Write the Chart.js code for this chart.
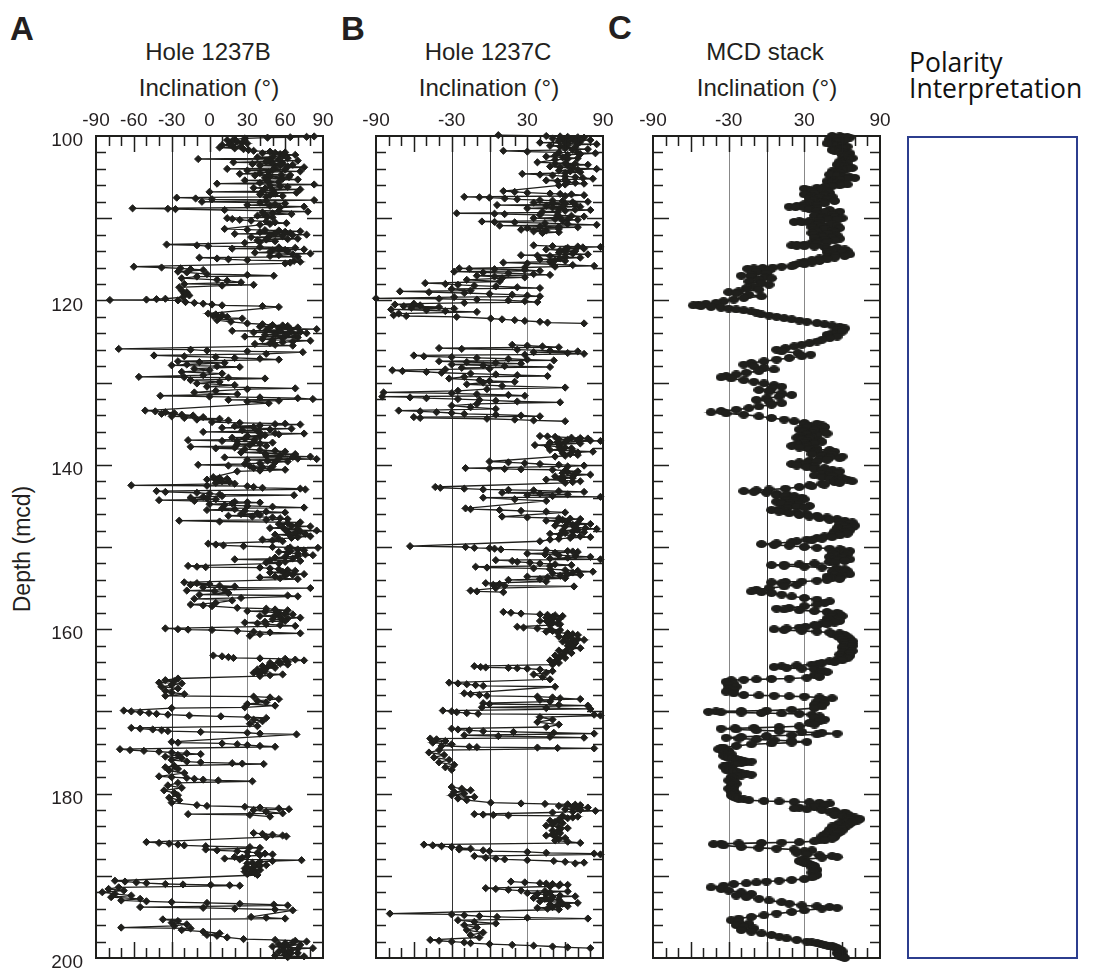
<!DOCTYPE html>
<html>
<head>
<meta charset="utf-8">
<script src="https://cdn.jsdelivr.net/npm/chart.js@4.4.1/dist/chart.umd.min.js"></script>
<style>
    body { margin: 0; background: #fff; font-family: "Liberation Sans", Arial, sans-serif; color: #231f20; }
    #page { position: relative; width: 1094px; height: 970px; overflow: hidden; }
    canvas { position: absolute; }
    .txt { position: absolute; line-height: 1; white-space: nowrap; transform: translate(-50%, -50%); }
    .letter { position: absolute; line-height: 1; font-weight: bold; font-size: 33px; }
    .title { font-size: 24px; }
    .polarity { position: absolute; left: 909px; font-family: "Open Sans", Lato, sans-serif; font-size: 26.5px; line-height: 1; color: #111; }
    #polbox { position: absolute; left: 907px; top: 136px; width: 167px; height: 819px; border: 2px solid #2c3e8e; }
</style>
</head>
<body>
<div id="page">
    <div class="letter" style="left:10px; top:12px;">A</div>
    <div class="letter" style="left:341px; top:12px;">B</div>
    <div class="letter" style="left:608px; top:11px;">C</div>

    <div class="txt title" style="left:208px; top:52px;">Hole 1237B</div>
    <div class="txt title" style="left:209px; top:88px;">Inclination (°)</div>
    <div class="txt title" style="left:488px; top:52px;">Hole 1237C</div>
    <div class="txt title" style="left:489px; top:88px;">Inclination (°)</div>
    <div class="txt title" style="left:765px; top:52px;">MCD stack</div>
    <div class="txt title" style="left:767px; top:88px;">Inclination (°)</div>

    <div class="txt" style="left:22px; top:549px; font-size:23px; transform: translate(-50%, -50%) rotate(-90deg);">Depth (mcd)</div>

    <div class="polarity" style="top:49px;">Polarity</div>
    <div class="polarity" style="top:75px;">Interpretation</div>
    <div id="polbox"></div>

    <canvas id="chartA" width="345" height="870" style="left:0px; top:100px;"></canvas>
    <canvas id="chartB" width="270" height="870" style="left:350px; top:100px;"></canvas>
    <canvas id="chartC" width="270" height="870" style="left:627px; top:100px;"></canvas>
</div>

<script>
// axis labels
const depthTicks = [100, 120, 140, 160, 180, 200];
const inclTicksA = [-90, -60, -30, 0, 30, 60, 90];
const inclTicksBC = [-90, -30, 30, 90];

// [depth (mcd), inclination (deg)]; null = break between cores
const hole1237B = [
    [100.05,83],[100.1,77],[100.15,64],[100.2,46],[100.3,28],[100.4,20],[100.5,14],[100.6,18],[100.7,22],[100.8,26],[100.9,30],[101.0,16],[101.1,10],[101.2,18],[101.3,25],[101.4,8],[101.5,20],[101.6,27],[101.7,31],[101.8,35],[101.9,48],[102.0,60],[102.05,52],[102.1,42],[102.2,56],[102.3,68],[102.4,58],[102.5,50],[102.6,38],[102.7,62],[102.8,-9],[102.9,55],[102.95,48],[103.0,70],[103.1,45],[103.2,19],[103.3,58],[103.35,50],[103.4,34],[103.5,66],[103.55,56],[103.6,40],[103.7,62],[103.8,75],[103.9,52],[104.0,14],[104.1,60],[104.15,50],[104.2,30],[104.3,72],[104.4,47],[104.5,40],[104.6,24],[104.7,57],[104.75,64],[104.8,36],[104.9,48],[105.0,63],[105.1,44],[105.2,58],[105.3,70],[105.4,28],[105.5,46],[105.6,55],[105.7,40],[105.8,6],[105.9,83],[106.0,48],[106.1,56],[106.2,62],[106.3,35],[106.4,44],[106.5,72],[106.6,50],[106.7,42],[106.8,0],[106.9,69],[107.0,52],[107.1,40],[107.2,48],[107.3,58],[107.4,45],[107.5,-26],[107.6,-11],[107.7,2],[107.8,83],[107.9,45],[108.0,-6],[108.1,40],[108.2,60],[108.3,52],[108.4,30],[108.5,48],[108.6,75],[108.7,56],[108.8,-61],[108.85,-33],[108.9,-27],[109.0,12],[109.1,55],[109.2,78],[109.3,42],[109.4,50],[109.5,65],[109.6,44],[109.7,38],[109.8,46],[109.9,50],[110.0,14],[110.1,18],[110.2,24],[110.3,33],[110.4,45],[110.5,52],[110.6,61],[110.7,48],[110.8,40],
    [111.3,12],[111.4,30],[111.45,44],[111.5,55],[111.6,72],[111.65,60],[111.7,40],[111.8,64],[111.85,52],[111.9,20],[112.0,77],[112.05,66],[112.1,48],[112.2,58],[112.3,33],[112.4,46],[112.5,70],[112.55,62],[112.6,45],[112.7,38],[112.8,52],[112.9,40],[113.0,28],[113.2,-34],[113.3,-10],[113.4,-1],[113.5,40],[113.55,55],[113.6,68],[113.7,18],[113.8,75],[113.85,60],[113.9,50],[114.0,62],[114.1,48],[114.2,36],[114.3,80],[114.4,66],[114.5,55],[114.6,48],[114.7,70],[114.8,-8],[114.9,6],[115.0,15],[115.1,30],[115.2,67],[115.3,72],[115.4,64],[115.5,60],
    [115.9,-60],[116.0,-38],[116.1,-23],[116.2,-15],[116.3,-5],[116.5,-25],[116.6,-18],[116.8,-2],[116.9,30],[117.0,51],[117.1,-10],[117.3,-22],[117.5,6],[117.6,14],[117.8,25],[118.0,-20],[118.1,35],[118.2,10],[118.4,-24],
    [118.8,-22],[119.0,-18],[119.2,-20],[119.4,-16],[119.6,-21],[119.8,-35],[119.85,-42],[119.9,-50],[119.95,-79],[120.0,-25],[120.2,-19],[120.3,-12],[120.4,-5],[120.5,2],[120.6,10],[120.7,42],[120.8,55],
    [121.6,-1],[121.7,5],[121.8,10],[121.9,3],[122.0,14],[122.1,8],[122.2,26],[122.4,6],[122.6,17],[122.8,30],[122.9,42],[123.0,50],[123.05,58],[123.1,62],[123.2,40],[123.25,48],[123.3,70],[123.4,55],[123.45,64],[123.5,85],[123.6,45],[123.65,56],[123.7,18],[123.8,65],[123.85,72],[123.9,35],[124.0,77],[124.05,62],[124.1,52],[124.2,44],[124.3,60],[124.35,68],[124.4,28],[124.5,70],[124.6,58],[124.7,42],[124.8,50],[124.9,80],[125.0,66],[125.1,58],[125.2,48],[125.3,36],[125.4,52],[125.5,66],
    [125.9,-72],[126.0,-15],[126.1,-2],[126.2,30],[126.3,74],[126.5,45],[126.7,-44],[126.8,-20],[126.9,5],[127.0,20],[127.1,40],[127.2,55],[127.4,-25],[127.5,-8],[127.6,12],[127.8,-18],[127.9,-30],[128.0,6],[128.1,24],[128.3,-12],[128.5,0],[128.7,-22],[128.9,10],[129.1,-5],[129.3,-56],[129.35,-20],[129.4,15],[129.5,44],[129.7,-15],[129.9,8],[130.1,-10],[130.3,20],[130.5,-2],[130.7,68],[130.8,30],[131.0,5],[131.2,-12],[131.4,22],[131.6,-39],[131.7,0],[131.8,40],[131.9,70],[132.0,82],[132.1,15],[132.2,55],[132.3,30],[132.5,47],
    [133.4,-51],[133.5,-43],[133.6,-35],[133.7,-28],[133.8,-38],[133.9,-22],[134.0,-13],[134.1,-30],[134.2,-5],[134.3,-20],[134.4,8],[134.5,-10],[134.6,15],[134.8,2],[134.9,24],[135.0,60],[135.05,52],[135.1,72],[135.2,40],[135.3,20],[135.4,35],[135.5,10],[135.6,65],[135.7,48],[135.8,26],[135.9,38],[136.0,-5],[136.1,40],[136.15,52],[136.2,75],[136.3,55],[136.4,44],[136.5,30],[136.6,40],[136.7,18],[136.8,28],[136.9,36],[137.0,-17],[137.1,10],[137.15,22],[137.2,35],[137.3,50],[137.4,40],[137.5,22],[137.6,32],[137.7,45],[137.8,-15],[137.9,20],[138.0,5],[138.1,28],[138.2,40],[138.3,52],[138.4,60],[138.5,25],[138.6,44],[138.7,68],[138.8,56],[138.9,45],[139.0,80],[139.05,66],[139.1,12],[139.2,55],[139.25,70],[139.3,85],[139.4,30],[139.5,46],[139.6,62],[139.7,52],[139.8,40],[139.9,28],[140.0,-9],[140.1,15],[140.15,32],[140.2,50],[140.3,42],[140.4,35],[140.5,48],[140.6,60],[140.7,40],[140.8,22],
    [141.5,3],[141.6,8],[141.7,14],[141.8,-2],[141.9,6],[142.0,10],[142.1,16],[142.2,5],[142.3,20],[142.5,-62],[142.55,-2],[142.6,30],[142.7,35],[142.8,42],[142.9,72],[143.0,76],[143.2,-42],[143.3,-35],[143.4,-10],[143.5,0],[143.6,8],[143.7,67],[143.8,10],[143.9,-5],[144.0,-15],[144.1,-2],[144.2,5],[144.3,-40],[144.4,-12],[144.5,20],[144.55,30],[144.6,40],[144.7,18],[144.8,0],[144.9,12],[145.0,30],[145.1,50],[145.2,75],[145.3,10],[145.4,20],[145.5,-2],[145.6,28],[145.7,45],[145.8,60],[145.9,38],[146.0,25],[146.1,40],[146.2,15],[146.3,34],[146.4,50],[146.5,56],[146.6,62],[146.7,45],[146.8,-24],[146.9,8],[147.0,72],[147.1,62],[147.2,55],[147.3,70],[147.4,65],[147.5,80],[147.6,58],[147.7,48],[147.8,70],[147.9,60],[148.0,85],[148.1,72],[148.2,62],[148.3,68],[148.4,76],[148.5,52],[148.6,64],[148.7,80],[148.8,70],[148.9,65],[149.0,55],[149.1,42],[149.2,50],[149.3,58],
    [149.6,-1],[149.7,5],[149.8,11],[149.9,27],[150.0,50],[150.05,64],[150.1,86],[150.2,62],[150.3,70],[150.4,75],[150.5,64],[150.6,55],[150.7,62],[150.8,70],[150.9,76],[151.0,82],[151.1,70],[151.2,60],[151.3,52],[151.4,66],[151.5,20],[151.6,48],[151.7,72],[151.8,60],[151.9,45],[152.0,55],[152.3,-17],[152.4,-10],[152.45,-3],[152.5,40],[152.6,48],[152.7,55],[152.8,62],[152.9,68],[153.0,58],[153.1,48],[153.2,62],[153.3,75],[153.4,66],[153.5,60],[153.6,52],[153.7,40],[153.8,56],[153.9,70],
    [154.3,-20],[154.4,-10],[154.5,0],[154.6,-15],[154.7,8],[154.8,20],[154.9,-5],[155.0,80],[155.2,12],[155.3,-18],[155.4,4],[155.6,15],[155.8,-8],[155.9,62],[156.0,70],[156.2,25],[156.3,-12],[156.5,18],[156.8,5],[157.0,-15],[157.1,-5],[157.2,2],[157.4,22],[157.5,45],[157.6,52],[157.7,62],[157.8,30],[157.9,44],[158.0,55],[158.1,60],[158.2,66],[158.3,52],[158.4,40],[158.5,56],[158.6,72],[158.7,62],[158.8,50],[158.9,58],[159.0,60],[159.1,44],[159.2,28],[159.3,38],[159.4,45],[159.5,56],[159.6,68],[159.9,-35],[160.0,-25],[160.05,-17],[160.1,2],[160.2,22],[160.3,35],[160.4,48],[160.5,72],[160.6,40],[160.8,32],
    null,
    [163.2,3],[163.3,10],[163.4,15],[163.5,19],[163.55,40],[163.6,60],[163.7,68],[163.8,75],[163.9,55],[164.0,62],[164.1,48],[164.2,56],[164.3,62],[164.4,50],[164.5,42],[164.6,46],[164.7,52],[164.8,44],[164.9,38],[165.0,42],[165.1,44],[165.2,38],[165.3,35],[165.4,40],[165.5,58],[165.6,48],[165.7,40],
    [166.0,-25],[166.2,-35],[166.3,-28],[166.5,-40],[166.6,-22],[166.8,-30],[167.0,-38],[167.2,-25],[167.5,-35],[167.7,-30],[167.9,-20],[168.1,-35],[168.2,35],[168.3,48],[168.5,55],[168.7,38],[168.9,45],[169.1,30],[169.3,52],[169.5,28],[169.6,-30],
    [169.9,-68],[170.0,-62],[170.1,-55],[170.2,-48],[170.3,-42],[170.4,-33],[170.5,-16],[170.6,9],[170.7,30],[170.8,45],[171.0,35],[171.2,42],[171.5,32],[171.8,38],[172.0,-62],[172.1,-55],[172.2,-45],[172.3,-38],[172.4,-33],[172.5,-7],[172.6,30],[172.7,40],[172.8,69],
    [173.7,-30],[173.8,-25],[173.9,10],[174.0,22],[174.1,30],[174.2,40],[174.3,52],[174.6,-71],[174.7,-63],[174.8,-52],[174.9,-40],[175.0,-30],[175.1,-18],[175.2,-7],[175.3,-25],[175.5,-35],[175.7,-22],[175.9,-30],[176.1,-18],[176.2,-7],[176.3,18],[176.35,26],[176.4,43],[176.6,-28],[176.8,-35],[177.0,-25],[177.2,-32],[177.5,-20],
    [177.9,-40],[178.0,-30],[178.1,-18],[178.2,-12],[178.3,-5],[178.4,7],[178.5,34],[178.7,-25],[179.0,-33],[179.3,-22],[179.6,-36],[179.9,-28],[180.2,-25],[180.5,-32],[180.8,-24],[181.1,-30],
    [181.4,-10],[181.5,-2],[181.6,28],[181.7,40],[181.8,55],[181.9,63],[182.0,35],[182.2,45],[182.4,58],[182.5,-17],[182.6,32],[182.8,48],
    null,
    [184.8,35],[184.9,42],[185.0,50],[185.1,58],[185.2,61],[185.3,45],
    [185.9,-50],[186.0,-40],[186.1,-32],[186.2,-25],[186.3,-20],[186.4,-3],[186.5,32],[186.6,40],[186.8,-3],[186.9,6],[187.0,22],[187.1,30],[187.2,38],[187.3,44],[187.4,50],[187.5,40],[187.6,30],[187.7,20],[187.8,26],[187.9,12],[188.0,24],[188.1,73],[188.2,50],[188.3,40],[188.4,34],[188.5,30],[188.6,38],[188.7,45],[188.8,40],[188.9,35],[189.0,30],[189.1,28],[189.2,34],[189.3,40],[189.4,36],[189.5,28],[189.6,32],[189.7,36],[189.8,30],[189.9,38],
    [190.6,-75],[190.7,-67],[190.8,-58],[190.9,-50],[191.0,-35],[191.05,-21],[191.1,1],[191.15,16],[191.2,24],[191.4,-72],[191.6,-80],[191.8,-68],[192.0,-85],[192.2,-75],[192.4,-62],[192.6,-78],[192.8,-55],[193.0,-70],[193.1,-50],[193.2,-30],[193.3,-2],[193.4,24],[193.5,51],[193.6,62],[193.8,-55],[193.9,-5],[194.0,20],[194.1,52],[194.2,66],
    [195.0,33],[195.1,45],[195.2,60],[195.3,-37],[195.5,-25],[195.7,-30],[195.9,-18],[196.1,-28],[196.3,-70],[196.4,-15],[196.6,-22],[196.8,-5],[197.0,8],[197.2,-2],[197.3,6],[197.5,14],[197.7,27],[197.8,52],[197.9,68],[198.0,77],[198.1,66],[198.2,60],[198.3,55],[198.4,72],[198.5,62],[198.6,50],[198.7,58],[198.8,82],[198.9,70],[199.0,65],[199.1,58],[199.2,55],[199.3,62],[199.4,70],[199.5,64],[199.6,60],[199.7,52],[199.8,75],[199.9,62]
];

const hole1237C = [
    [99.9,7],[100.0,45],[100.05,56],[100.1,62],[100.15,70],[100.2,75],[100.3,50],[100.35,58],[100.4,66],[100.5,80],[100.55,68],[100.6,55],[100.7,72],[100.75,62],[100.8,40],[100.9,60],[100.95,70],[101.0,85],[101.1,62],[101.2,48],[101.3,56],[101.4,68],[101.5,60],[101.6,78],[101.7,66],[101.8,11],[101.9,30],[102.0,55],[102.05,70],[102.1,84],[102.2,72],[102.3,62],[102.4,52],[102.5,45],[102.6,58],[102.7,70],[102.8,62],[102.9,52],[103.2,38],[103.3,60],[103.35,68],[103.4,52],[103.5,78],[103.6,62],[103.7,48],[103.8,56],[103.9,66],[104.0,85],[104.1,70],[104.2,55],[104.3,64],[104.4,72],[104.5,60],[104.6,26],[104.7,40],[104.8,50],[104.9,60],[105.0,68],[105.1,74],[105.2,82],[105.3,60],[105.4,45],[105.5,54],[105.6,62],[105.7,68],[105.8,75],[105.9,60],[106.0,55],
    [106.7,11],[106.8,20],[106.9,30],[107.0,48],[107.05,56],[107.1,65],[107.2,75],[107.3,60],[107.4,-20],[107.45,-8],[107.5,0],[107.6,12],[107.7,22],[107.8,40],[107.85,50],[107.9,58],[108.0,78],[108.05,66],[108.1,35],[108.2,50],[108.25,60],[108.3,68],[108.4,6],[108.5,45],[108.55,58],[108.6,72],[108.7,50],[108.8,30],[108.9,55],[108.95,68],[109.0,80],[109.1,60],[109.2,42],[109.3,54],[109.4,-26],[109.45,4],[109.5,12],[109.6,40],[109.65,54],[109.7,65],[109.8,75],[109.9,56],[110.0,35],[110.1,52],[110.15,62],[110.2,70],[110.3,58],[110.4,-6],[110.45,4],[110.5,20],[110.6,44],[110.7,62],[110.8,85],[110.9,8],[111.0,40],[111.05,55],[111.1,70],[111.2,30],[111.3,55],[111.4,25],[111.5,45],[111.6,35],[111.7,55],[111.8,42],
    null,
    [113.3,35],[113.4,50],[113.45,70],[113.5,88],[113.55,74],[113.6,62],[113.7,75],[113.75,60],[113.8,45],[113.9,56],[114.0,68],[114.1,60],[114.2,55],[114.3,66],[114.4,78],[114.5,25],[114.55,38],[114.6,48],[114.7,60],[114.8,72],[114.9,56],[115.0,40],[115.1,52],[115.2,60],[115.3,48],[115.4,11],[115.5,30],[115.6,50],[115.7,66],[115.8,83],[115.9,52],[116.0,28],
    [116.1,-24],[116.15,-16],[116.2,4],[116.3,28],[116.4,40],[116.5,-28],[116.6,-5],[116.7,15],[116.8,35],[116.9,48],[117.0,-10],[117.1,4],[117.2,28],[117.3,10],[117.5,-18],[117.7,8],[117.9,-51],[118.0,-35],[118.1,-25],[118.2,-12],[118.3,5],[118.4,22],[118.5,40],[118.6,-30],[118.8,-15],[118.9,-71],[119.0,-48],[119.1,-20],[119.2,0],[119.3,18],[119.4,30],[119.5,40],[119.6,-28],[119.75,-90],[119.8,-40],[119.9,-10],[120.0,15],[120.1,28],[120.2,38],[120.3,-20],[120.4,-60],[120.5,-75],[120.6,-55],[120.7,-68],[120.8,-40],[120.9,-62],[121.0,-28],[121.1,-78],[121.2,-50],[121.3,-35],[121.4,-10],[121.6,-72],[121.8,-76],[121.9,-66],[122.0,-26],[122.2,1],[122.3,10],[122.4,20],[122.5,28],[122.6,40],[122.7,46],[122.8,75],
    null,
    [125.4,18],[125.5,30],[125.6,42],[125.7,55],[125.8,-40],[125.9,-22],[126.0,22],[126.1,48],[126.2,70],[126.3,35],[126.4,62],[126.5,75],[126.6,28],[126.7,-60],[126.8,-52],[126.9,-30],[127.0,-10],[127.1,15],[127.2,30],[127.3,51],[127.4,-40],[127.5,-18],[127.6,5],[127.7,25],[127.8,-30],[127.9,-5],[128.0,12],[128.1,48],[128.2,-22],[128.3,0],[128.4,-35],[128.5,-77],[128.6,-69],[128.7,-50],[128.8,-38],[128.9,-15],[129.0,5],[129.1,22],[129.2,46],[129.3,-20],[129.5,-32],[129.7,-8],[129.8,0],[129.9,20],[130.0,-5],[130.2,-18],[130.4,10],[130.6,60],[130.8,-2],[131.0,-25],[131.2,-84],[131.3,-30],[131.4,-10],[131.5,15],[131.6,28],[131.7,-85],[131.8,-63],[131.9,-50],[132.0,-25],[132.1,-8],[132.2,5],[132.3,22],[132.4,56],[132.6,-10],[132.8,-30],[133.0,-15],[133.2,5],[133.4,-72],[133.5,-55],[133.6,-42],[133.7,-30],[133.8,-20],[133.9,5],[134.0,25],[134.1,40],[134.2,-60],[134.3,-55],[134.4,-2],[134.5,20],[134.6,35],[134.7,60],
    null,
    [136.5,40],[136.55,46],[136.6,52],[136.7,65],[136.75,72],[136.8,78],[136.9,55],[136.95,62],[137.0,70],[137.05,80],[137.1,88],[137.2,60],[137.25,54],[137.3,48],[137.4,72],[137.5,56],[137.6,36],[137.7,46],[137.8,55],[137.9,60],[138.0,65],[138.1,56],[138.2,48],[138.3,66],[138.4,82],[138.5,70],[138.6,58],[138.7,64],[138.8,70],[138.9,60],[139.0,52],
    [139.6,0],[139.7,15],[139.8,28],[139.9,40],[140.0,55],[140.1,75],[140.2,62],[140.4,-19],[140.45,0],[140.5,12],[140.55,25],[140.6,50],[140.7,60],[140.8,70],[140.9,62],[141.0,58],[141.1,68],[141.2,80],[141.3,66],[141.4,52],[141.5,58],[141.6,66],[141.7,56],[141.8,45],[141.9,58],[142.0,72],[142.1,66],[142.2,60],
    [142.7,-43],[142.8,-39],[142.9,-20],[143.0,-5],[143.05,15],[143.1,35],[143.2,55],[143.3,75],[143.4,10],[143.5,40],[143.6,62],[143.7,30],[143.8,50],[143.9,88],[144.0,-5],[144.2,20],[144.4,45],[145.3,-19],[145.4,-15],[145.5,8],[145.6,25],[145.7,45],[145.8,60],
    [146.3,10],[146.4,30],[146.5,55],[146.55,64],[146.6,72],[146.7,58],[146.8,45],[146.9,54],[147.0,62],[147.1,70],[147.2,80],[147.3,66],[147.4,52],[147.5,60],[147.6,68],[147.7,76],[147.8,85],[147.9,70],[148.0,58],[148.1,66],[148.2,75],[148.3,60],[148.4,48],[148.5,56],[148.6,66],[148.7,72],[148.8,80],[148.9,64],[149.0,55],[149.1,48],[149.3,40],
    [149.9,-63],[150.0,-19],[150.1,-12],[150.15,0],[150.2,4],[150.3,9],[150.4,45],[150.5,62],[150.55,66],[150.6,70],[150.7,52],[150.8,30],[150.9,44],[151.0,55],[151.1,68],[151.2,80],[151.3,62],[151.4,48],[151.5,88],[151.6,5],[151.7,18],[151.8,22],[151.9,32],[152.0,40],[152.1,52],[152.2,65],[152.3,48],[152.4,-11],[152.5,-2],[152.6,35],[152.7,48],[152.8,60],[152.9,70],[153.0,82],[153.1,66],[153.2,50],[153.3,62],[153.4,72],[153.5,56],[153.6,30],[153.7,46],[153.8,60],[153.9,40],[154.0,15],[154.2,45],[154.4,-3],[154.5,8],[154.6,3],[154.7,12],[154.8,67],[155.0,5],[155.3,-15],[155.4,-10],[155.5,11],
    null,
    [157.9,11],[158.0,17],[158.1,25],[158.2,40],[158.25,46],[158.3,52],[158.4,58],[158.5,50],[158.6,45],[158.7,50],[158.8,55],[158.9,48],[159.0,40],[159.1,46],[159.2,50],[159.3,54],[159.4,56],[159.5,48],[159.7,22],[159.8,27],[159.9,38],[160.0,48],[160.1,56],[160.2,50],[160.3,45],[160.4,54],[160.5,62],[160.6,66],[160.7,70],[160.8,62],[160.9,55],[161.0,60],[161.1,65],[161.2,70],[161.3,75],[161.4,66],[161.5,58],[161.6,62],[161.7,68],[161.85,64],[162.0,62],[162.15,66],[162.3,72],[162.45,62],[162.6,55],[162.75,60],[162.9,65],[163.05,58],[163.2,52],[163.35,56],[163.5,60],[163.65,54],[163.8,48],[163.95,52],[164.1,55],[164.3,50],
    [164.5,-12],[164.6,-7],[164.65,-3],[164.7,15],[164.75,22],[164.8,30],[164.9,40],[165.1,50],[165.3,45],[165.5,35],[165.8,42],[166.1,48],
    [166.5,-32],[166.6,-25],[166.7,-18],[166.8,-11],[166.9,-5],[167.0,52],[167.8,-20],[167.9,-15],[168.0,-8],[168.1,-2],[168.2,38],[168.3,50],[168.4,56],[168.5,72],[168.6,40],[168.8,48],[169.0,-5],[169.1,0],[169.2,55],[169.3,78],[169.5,-6],[169.6,45],[169.7,80],[169.9,-37],[170.0,-30],[170.1,-26],[170.2,-18],[170.3,-9],[170.4,83],[170.5,88],[170.7,40],[171.0,50],[171.3,38],[171.6,55],[171.9,45],[172.1,-30],[172.2,-25],[172.3,-16],[172.4,-5],[172.5,19],[172.6,51],[172.7,83],[172.9,-20],[173.0,7],[173.1,48],[173.2,75],[173.3,-47],[173.4,-42],[173.6,-35],[173.8,-45],[174.0,-30],[174.2,-38],[174.3,-16],[174.35,-10],[174.4,38],[174.45,54],[174.5,83],[174.7,-40],[175.0,-48],[175.3,-36],[175.6,-44],[175.9,-32],[176.2,-40],[176.5,-28],[176.8,-35],[177.1,-30],
    null,
    [179.2,-30],[179.4,-22],[179.6,-15],[179.8,-28],[180.0,-20],[180.2,-30],[180.4,-12],[180.6,-25],[180.8,-18],[181.1,1],[181.2,25],[181.25,44],[181.3,62],[181.35,68],[181.4,72],[181.5,55],[181.6,66],[181.7,78],[181.8,70],[181.9,60],[182.0,72],[182.1,84],[182.2,66],[182.3,50],[182.5,-12],[182.55,-5],[182.6,3],[182.65,15],[182.7,58],[182.8,70],[182.9,66],[183.0,62],[183.15,55],[183.3,48],[183.45,52],[183.6,58],[183.75,50],[183.9,45],[184.05,55],[184.2,62],[184.35,56],[184.5,50],[184.65,54],[184.8,56],[184.95,50],[185.1,45],[185.25,52],[185.4,60],[185.55,55],[185.7,52],[185.85,62],[186.0,72],
    [186.2,-52],[186.3,-45],[186.4,-38],[186.5,-30],[186.6,-24],[186.7,-15],[186.8,-24],[186.9,-5],[187.0,0],[187.1,30],[187.2,45],[187.3,83],[187.4,88],[187.6,-12],[187.8,-3],[187.9,5],[188.0,12],[188.1,30],[188.2,51],[188.3,60],[188.4,75],[188.5,68],
    null,
    [190.7,17],[190.8,28],[190.9,40],[190.95,45],[191.0,50],[191.05,56],[191.1,62],[191.2,55],[191.3,48],[191.5,-3],[191.6,5],[191.7,15],[191.8,25],[191.85,44],[191.9,62],[192.0,48],[192.1,30],[192.2,38],[192.3,45],[192.4,56],[192.5,68],[192.6,50],[192.7,35],[192.8,44],[192.9,55],[193.0,48],[193.1,40],[193.2,56],[193.3,70],[193.4,58],[193.5,48],[193.6,54],[193.7,62],[193.8,50],[193.9,38],[194.0,46],[194.1,55],
    [194.6,-79],[194.7,-30],[194.8,-20],[194.9,-8],[195.0,6],[195.1,30],[195.2,78],[195.4,-25],[195.6,-12],[195.8,5],[196.0,-20],[196.3,-10],[196.6,-18],[196.9,-5],[197.2,-15],[197.5,-8],[197.8,-47],[197.9,-40],[198.0,-30],[198.1,-20],[198.2,-15],[198.3,0],[198.4,18],[198.5,35],[198.6,50],[198.7,62],[198.8,80]
];

const mcdStack = [
    [100.0,52],[100.05,58],[100.1,60],[100.15,64],[100.2,66],[100.25,62],[100.3,58],[100.35,54],[100.4,50],[100.45,56],[100.5,62],[100.6,58],[100.7,55],[100.8,50],[100.9,48],[101.0,52],[101.1,56],[101.2,60],[101.3,64],[101.4,62],[101.5,60],[101.6,56],[101.7,52],[101.8,54],[101.9,58],[102.0,62],[102.1,66],[102.2,63],[102.3,60],[102.4,64],[102.5,62],[102.6,65],[102.7,68],[102.8,65],[102.9,62],[103.0,60],[103.1,58],[103.2,61],[103.3,64],[103.4,60],[103.5,56],[103.6,59],[103.7,62],[103.8,65],[103.9,68],[104.0,64],[104.1,60],[104.2,56],[104.3,52],[104.4,55],[104.5,58],[104.6,54],[104.7,50],[104.8,56],[104.9,62],[105.0,66],[105.1,70],[105.2,64],[105.3,58],[105.4,52],[105.5,48],[105.6,52],[105.7,56],[105.8,60],[105.9,64],[106.0,58],[106.1,52],[106.2,46],
    [106.3,40],[106.4,30],[106.5,44],[106.6,34],[106.7,48],[106.8,36],[106.9,50],[107.0,38],[107.1,30],[107.2,46],[107.3,36],[107.4,52],[107.5,42],[107.6,34],[107.7,48],[107.8,38],[107.9,54],[108.0,44],[108.1,34],[108.2,46],[108.3,30],[108.4,40],[108.5,28],[108.55,24],[108.6,18],[108.65,23],[108.7,30],[108.8,40],[108.9,34],[109.0,50],[109.1,40],[109.2,58],[109.3,46],[109.4,56],[109.5,40],[109.6,52],[109.7,38],[109.8,54],[109.9,44],[110.0,60],[110.1,48],[110.2,56],[110.3,42],[110.35,34],[110.4,26],[110.45,22],[110.5,28],[110.55,34],[110.6,42],[110.7,52],[110.8,40],[110.9,56],[111.0,44],[111.1,36],[111.2,58],[111.3,46],[111.4,38],[111.5,52],[111.6,40],[111.7,54],[111.8,36],[111.9,48],[112.0,38],[112.1,56],[112.2,44],[112.3,52],[112.4,38],[112.5,58],[112.6,46],[112.7,54],[112.8,40],[112.9,48],[113.0,36],[113.1,40],[113.2,30],[113.25,24],[113.3,20],[113.35,24],[113.4,30],[113.45,38],[113.5,46],[113.6,56],[113.7,48],[113.8,62],[113.9,52],[114.0,64],[114.1,48],[114.2,60],[114.3,50],[114.4,66],[114.5,54],[114.6,62],[114.7,48],[114.8,54],[114.9,42],[115.0,48],[115.1,36],[115.2,42],[115.3,30],[115.4,36],[115.5,26],[115.6,30],[115.7,22],
    [115.85,20],[115.9,12],[116.0,5],[116.05,-3],[116.1,-10],[116.15,-15],[116.25,-5],[116.35,2],[116.5,-8],[116.7,0],[116.9,-12],[117.0,-20],[117.1,-12],[117.2,-2],[117.3,4],[117.5,-6],[117.7,-14],[117.9,-4],[118.1,2],[118.3,-10],[118.5,-16],[118.7,-6],[118.9,-22],[119.0,-30],[119.1,-24],[119.3,-14],[119.5,-4],[119.7,-18],[119.9,-26],
    [120.1,-34],[120.3,-40],[120.4,-48],[120.5,-54],[120.6,-58],[120.7,-52],[120.8,-44],[120.9,-36],[121.0,-30],[121.1,-24],[121.2,-18],[121.35,-12],[121.5,-8],[121.7,-4],[121.85,2],[122.0,8],[122.15,14],[122.3,20],[122.45,26],[122.6,32],[122.75,40],[122.9,46],[123.05,52],[123.2,58],[123.4,62],[123.6,56],[123.8,60],[124.0,52],[124.2,48],[124.4,56],[124.6,50],[124.8,44],[125.0,40],[125.2,34],[125.4,28],[125.6,22],[125.8,15],[126.0,8],[126.2,12],[126.4,25],[126.6,35],[126.8,28],[127.0,18],[127.2,8],[127.4,-2],[127.6,-12],[127.8,-18],[128.0,-10],[128.2,-2],[128.4,6],[128.6,-6],[128.8,-16],[129.0,-24],[129.2,-32],[129.35,-36],[129.5,-28],[129.7,-18],[129.9,-10],[130.1,-2],[130.3,6],[130.5,12],[130.7,4],[130.9,-6],[131.1,2],[131.3,12],[131.5,20],[131.7,10],[131.9,0],[132.1,-8],[132.3,2],[132.5,12],[132.7,4],[132.9,-6],[133.1,-14],[133.3,-24],[133.45,-36],[133.6,-44],[133.75,-32],[133.9,-18],[134.1,-6],[134.3,4],[134.5,14],[134.7,22],
    [134.9,30],[135.0,40],[135.1,30],[135.2,44],[135.3,34],[135.4,46],[135.5,32],[135.6,40],[135.7,26],[135.8,38],[135.9,30],[136.0,46],[136.1,36],[136.2,48],[136.3,32],[136.4,40],[136.5,26],[136.6,36],[136.7,24],[136.8,34],[136.9,28],[137.0,42],[137.1,32],[137.2,44],[137.3,30],[137.4,38],[137.5,24],[137.6,32],[137.7,20],[137.8,30],[137.9,26],[138.0,40],[138.1,34],[138.2,50],[138.3,40],[138.4,54],[138.5,38],[138.6,48],[138.7,36],[138.8,52],[138.9,44],[139.0,60],[139.1,50],[139.2,58],[139.3,42],[139.4,48],[139.5,34],[139.6,40],[139.7,26],[139.8,32],[139.9,20],[140.0,30],[140.1,24],[140.2,38],[140.3,32],[140.4,46],[140.5,38],[140.6,52],[140.7,44],[140.8,58],[140.9,48],[141.0,56],[141.1,44],[141.2,50],[141.3,38],[141.4,52],[141.5,44],[141.6,60],[141.7,50],[141.8,64],[141.9,56],[142.0,68],[142.1,54],[142.2,58],[142.3,44],[142.4,46],[142.5,34],[142.6,36],[142.7,26],
    [142.9,15],[143.0,2],[143.1,-8],[143.2,-18],[143.3,-10],[143.4,0],[143.5,8],[143.6,16],[143.7,8],[143.8,22],[143.9,14],[144.0,28],[144.1,20],[144.2,30],[144.3,16],[144.4,22],[144.5,8],[144.6,18],[144.7,12],[144.8,26],[144.9,18],[145.0,34],[145.1,24],[145.2,30],[145.3,16],[145.4,10],[145.5,4],[145.6,14],[145.7,10],[145.8,24],[145.9,18],[146.0,32],[146.1,26],[146.2,40],[146.3,34],[146.4,48],[146.5,42],[146.6,56],[146.7,50],[146.8,62],[146.9,58],[147.0,68],[147.1,60],[147.2,66],[147.3,58],[147.4,70],[147.5,62],[147.6,68],[147.7,56],[147.8,64],[147.9,56],[148.0,66],[148.1,54],[148.2,62],[148.3,54],[148.4,64],[148.5,52],[148.6,58],[148.7,46],[148.8,52],[148.9,40],[149.0,44],[149.1,32],[149.2,36],[149.3,24],[149.4,20],
    [149.55,8],[149.65,-4],[149.75,6],[149.85,18],
    [150.0,30],[150.1,40],[150.2,50],[150.3,58],[150.4,60],[150.5,66],[150.6,54],[150.7,62],[150.8,52],[150.9,64],[151.0,54],[151.1,62],[151.2,50],[151.3,60],[151.4,54],[151.5,66],[151.6,56],[151.7,62],[151.8,50],[151.9,54],[152.0,38],[152.1,26],[152.15,14],[152.2,4],[152.3,14],[152.4,30],[152.5,44],[152.6,56],[152.7,62],[152.8,54],[152.9,64],[153.0,52],[153.1,62],[153.2,56],[153.3,66],[153.4,54],[153.5,60],[153.6,48],[153.7,58],[153.8,52],[153.9,58],[154.0,48],
    [154.1,40],[154.2,28],[154.25,15],[154.3,4],[154.4,12],[154.6,24],[154.8,14],[155.0,2],[155.2,-8],[155.4,-12],[155.5,-4],[155.6,4],[155.8,12],[156.0,20],[156.2,30],[156.4,40],[156.6,50],[156.8,46],[157.0,40],[157.2,30],[157.4,18],[157.5,8],[157.6,14],[157.7,26],[157.8,38],[157.9,48],
    [158.0,56],[158.1,50],[158.2,58],[158.3,52],[158.4,60],[158.5,52],[158.6,58],[158.7,48],[158.8,56],[158.9,50],[159.0,58],[159.1,48],[159.2,54],[159.3,44],[159.4,48],[159.5,38],[159.6,40],[159.7,31],[159.8,26],[159.9,16],
    [160.0,6],[160.1,14],[160.2,28],[160.3,40],[160.4,50],[160.5,58],[160.6,52],[160.7,62],[160.8,56],[160.9,64],[161.0,58],[161.15,66],[161.3,60],[161.45,68],[161.6,62],[161.75,68],[161.9,62],[162.05,68],[162.2,60],[162.35,66],[162.5,62],[162.65,68],[162.8,60],[162.95,66],[163.1,58],[163.25,66],[163.4,60],[163.55,64],[163.7,56],[163.8,60],[163.9,50],[164.0,54],[164.1,44],
    [164.2,41],[164.3,36],[164.4,24],[164.5,12],[164.6,6],[164.7,16],[164.8,28],[164.9,38],[165.0,44],[165.2,48],[165.4,42],[165.6,38],[165.8,42],[165.9,32],[166.0,18],[166.05,4],[166.1,-8],[166.15,-18],[166.2,-28],[166.4,-32],[166.6,-26],[166.8,-30],[167.0,-24],[167.2,-30],[167.4,-26],[167.6,-32],[167.8,-26],[168.0,-18],[168.05,-6],[168.1,6],[168.15,18],[168.2,30],[168.3,42],[168.4,52],[168.6,46],[168.8,40],[169.0,46],[169.2,38],[169.4,44],[169.6,38],[169.8,20],[169.9,0],[169.95,-20],
    [170.0,-40],[170.05,-46],[170.1,-36],[170.15,-20],[170.2,-4],[170.25,12],[170.3,26],[170.4,36],[170.6,42],[170.8,38],[171.0,46],[171.2,42],[171.4,34],[171.6,38],[171.8,26],[171.9,10],[172.0,-10],[172.05,-25],[172.1,-36],[172.2,-24],[172.3,-8],[172.4,10],[172.5,28],[172.6,44],[172.7,56],[172.8,40],[172.9,20],[173.0,0],[173.1,-20],[173.2,-32],[173.3,-22],[173.4,-8],[173.5,6],[173.6,20],[173.7,32],[173.8,20],[173.9,4],[174.0,-12],[174.2,-24],
    [174.4,-34],[174.5,-36],[174.6,-38],[174.7,-34],[174.8,-30],[174.9,-32],[175.0,-34],[175.1,-31],[175.2,-28],[175.3,-31],[175.4,-34],[175.5,-32],[175.6,-30],[175.7,-27],[175.8,-24],[175.9,-21],[176.0,-18],[176.1,-12],[176.2,-16],[176.3,-20],[176.4,-25],[176.5,-30],[176.6,-32],[176.7,-34],[176.8,-31],[176.9,-28],[177.0,-30],[177.1,-32],[177.2,-29],[177.3,-26],[177.4,-23],[177.5,-20],[177.6,-16],[177.7,-12],[177.8,-20],[177.9,-24],[178.0,-28],[178.1,-27],[178.2,-26],[178.3,-28],[178.4,-30],[178.5,-28],[178.6,-26],[178.7,-25],[178.8,-24],[178.9,-26],[179.0,-28],[179.1,-27],[179.2,-26],[179.3,-28],[179.4,-30],[179.5,-28],[179.6,-26],[179.7,-27],[179.8,-28],[179.9,-26],[180.0,-24],[180.1,-26],[180.2,-28],[180.3,-27],[180.4,-26],[180.5,-24],[180.6,-22],[180.7,-18],[180.8,-14],
    [180.9,-2],[180.95,10],[181.0,22],[181.05,34],[181.1,42],[181.2,50],[181.4,46],[181.6,38],[181.7,26],[181.8,22],[181.9,32],
    [182.0,44],[182.1,54],[182.2,50],[182.3,62],[182.4,56],[182.5,64],[182.6,54],[182.7,66],[182.8,60],[182.9,70],[183.0,64],[183.1,74],[183.2,66],[183.3,72],[183.4,62],[183.5,68],[183.6,58],[183.7,66],[183.8,56],[183.9,64],[184.0,52],[184.1,62],[184.2,54],[184.3,60],[184.4,50],[184.5,60],[184.6,52],[184.7,58],[184.8,48],[184.9,56],[185.0,46],[185.1,54],[185.2,44],[185.3,54],[185.4,48],[185.5,52],[185.6,42],[185.7,46],[185.8,38],
    [185.9,26],[185.95,12],[186.0,-4],[186.05,-22],[186.1,-36],[186.15,-42],[186.3,-34],[186.5,-20],[186.6,-6],[186.7,8],[186.8,22],[186.9,36],[187.0,30],[187.2,24],[187.4,32],[187.5,42],[187.6,52],[187.7,56],[187.8,44],
    [188.0,30],[188.1,28],[188.2,26],[188.3,28],[188.4,30],[188.5,32],[188.6,34],[188.7,36],[188.8,38],[188.9,37],[189.0,36],[189.15,38],[189.3,40],[189.45,38],[189.6,36],[189.75,38],[189.9,40],[190.05,38],[190.2,36],
    [190.4,30],[190.5,20],[190.6,10],[190.7,0],[190.8,-8],[190.9,-16],[191.0,-26],[191.2,-34],[191.4,-44],[191.6,-36],[191.8,-30],[192.0,-20],[192.2,-12],[192.4,-24],[192.6,-16],[192.8,-6],[193.0,2],[193.2,12],[193.4,18],[193.6,28],[193.7,40],[193.8,50],[193.9,56],[194.0,44],[194.2,30],[194.4,20],[194.6,8],[194.8,-2],[195.0,-12],[195.2,-22],[195.4,-28],[195.6,-22],[195.8,-14],[196.0,-24],[196.2,-18],[196.4,-10],[196.6,-20],[196.8,-12],[197.0,-4],[197.2,4],[197.4,10],[197.6,16],[197.8,24],
    [198.0,32],[198.1,36],[198.2,40],[198.3,43],[198.4,46],[198.5,49],[198.6,52],[198.7,54],[198.8,56],[198.9,57],[199.0,58],[199.1,59],[199.2,60],[199.3,58],[199.4,56],[199.5,58],[199.6,60],[199.7,59],[199.8,58],[199.9,60],[200.0,62]
];

const INK = "#1f1f1c";
const TICK_FONT = '19px "Liberation Sans", Arial, sans-serif';

// flattened dot used for the stacked record
function ellipseMarker(w, h) {
    const c = document.createElement("canvas");
    c.width = w;
    c.height = h;
    const g = c.getContext("2d");
    g.fillStyle = INK;
    g.beginPath();
    g.ellipse(w / 2, h / 2, w / 2, h / 2, 0, 0, Math.PI * 2);
    g.fill();
    return c;
}

// box, inward ticks, grid lines and tick labels for each column
const framePlugin = {
    id: "frame",
    beforeDatasetsDraw(chart, args, opts) {
        const ctx = chart.ctx;
        const a = chart.chartArea;
        const x = chart.scales.x;
        ctx.save();
        ctx.lineWidth = 1;
        [-30, 0, 30].forEach(function (v, i) {
            ctx.strokeStyle = opts.gridColors[i];
            const px = Math.round(x.getPixelForValue(v)) + 0.5;
            ctx.beginPath();
            ctx.moveTo(px, a.top);
            ctx.lineTo(px, a.bottom);
            ctx.stroke();
        });
        ctx.restore();
    },
    afterDatasetsDraw(chart, args, opts) {
        const ctx = chart.ctx;
        const a = chart.chartArea;
        const x = chart.scales.x;
        const y = chart.scales.y;
        ctx.save();
        ctx.strokeStyle = INK;
        ctx.lineWidth = 1.5;
        ctx.beginPath();
        for (let v = -80; v <= 80; v += 10) {
            const len = v % 30 === 0 ? 16 : 10;
            const px = Math.round(x.getPixelForValue(v)) + 0.5;
            ctx.moveTo(px, a.top);
            ctx.lineTo(px, a.top + len);
            ctx.moveTo(px, a.bottom);
            ctx.lineTo(px, a.bottom - len);
        }
        for (let d = 102; d <= 198; d += 2) {
            const len = d % 10 === 0 ? 16 : 10;
            const py = Math.round(y.getPixelForValue(d)) + 0.5;
            ctx.moveTo(a.left, py);
            ctx.lineTo(a.left + len, py);
            ctx.moveTo(a.right, py);
            ctx.lineTo(a.right - len, py);
        }
        ctx.stroke();

        ctx.lineWidth = 2;
        ctx.strokeRect(a.left, a.top, a.right - a.left, a.bottom - a.top);

        ctx.fillStyle = "#231f20";
        ctx.font = TICK_FONT;
        ctx.textAlign = "center";
        ctx.textBaseline = "middle";
        opts.inclTicks.forEach(function (v) {
            ctx.fillText(String(v), x.getPixelForValue(v), a.top - 15);
        });
        if (opts.depthLabels) {
            ctx.textAlign = "right";
            depthTicks.forEach(function (d) {
                ctx.fillText(String(d), a.left - 13, y.getPixelForValue(d) + 5);
            });
        }
        ctx.restore();
    }
};

function makePanel(id, rows, pad, frame, style) {
    // a null row leaves a gap in the connecting line
    const points = rows.map(function (r) {
        return r ? { x: r[1], y: r[0] } : { x: null, y: null };
    });
    return new Chart(document.getElementById(id), {
        type: "scatter",
        data: {
            datasets: [{
                data: points,
                showLine: true,
                spanGaps: false,
                borderColor: INK,
                borderWidth: style.line,
                pointStyle: style.marker,
                pointRadius: style.radius,
                pointBackgroundColor: INK,
                pointBorderColor: INK,
                pointBorderWidth: 1,
                clip: 5
            }]
        },
        options: {
            responsive: false,
            animation: false,
            devicePixelRatio: 1,
            events: [],
            layout: { padding: pad },
            plugins: {
                legend: { display: false },
                tooltip: { enabled: false },
                frame: frame
            },
            scales: {
                x: { type: "linear", min: -90, max: 90, display: false },
                y: { type: "linear", min: 100, max: 200, reverse: true, display: false }
            }
        },
        plugins: [framePlugin]
    });
}

makePanel("chartA", hole1237B,
    { left: 96, right: 22, top: 36, bottom: 12 },
    { inclTicks: inclTicksA, depthLabels: true, gridColors: ["#333", "#333", "#888"] },
    { marker: "rectRot", radius: 3.6, line: 1.3 });

makePanel("chartB", hole1237C,
    { left: 26, right: 17, top: 36, bottom: 12 },
    { inclTicks: inclTicksBC, depthLabels: false, gridColors: ["#333", "#333", "#888"] },
    { marker: "rectRot", radius: 3.6, line: 1.3 });

makePanel("chartC", mcdStack,
    { left: 26, right: 17, top: 36, bottom: 12 },
    { inclTicks: inclTicksBC, depthLabels: false, gridColors: ["#888", "#333", "#888"] },
    { marker: ellipseMarker(11, 8), radius: 5, line: 1.6 });
</script>
</body>
</html>
